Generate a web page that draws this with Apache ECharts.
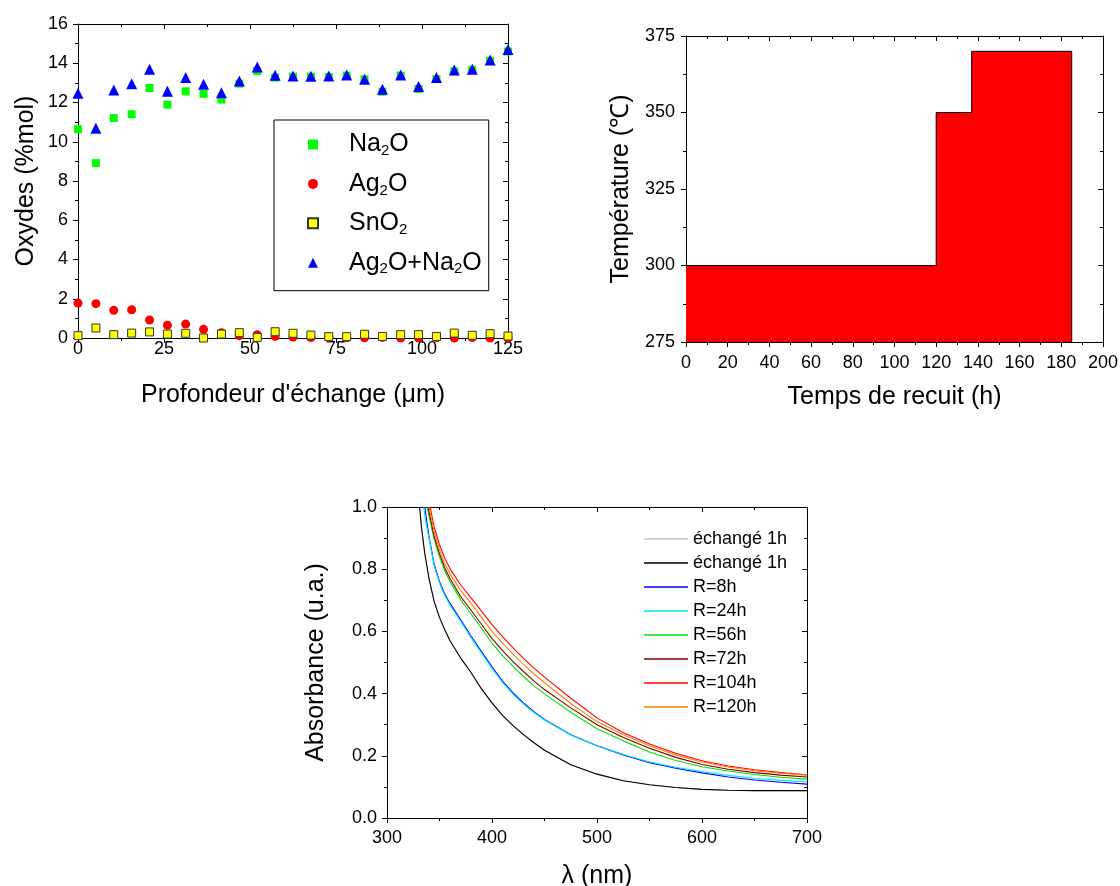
<!DOCTYPE html>
<html><head><meta charset="utf-8">
<script src="https://cdn.jsdelivr.net/npm/echarts@6/dist/echarts.min.js"></script>
<style>html,body{margin:0;padding:0;background:#fff}#c{width:1120px;height:886px}</style>
</head><body><div id="c"></div><script>
// ---------- Chart 1: oxides vs depth ----------
const depth = [0,5.2,10.4,15.6,20.8,26.0,31.3,36.5,41.7,46.9,52.1,57.3,62.5,67.7,72.9,78.1,83.3,88.5,93.8,99.0,104.2,109.4,114.6,119.8,125];
const na2o  = [10.64,8.91,11.21,11.40,12.74,11.89,12.57,12.44,12.15,12.96,13.60,13.27,13.32,13.32,13.30,13.37,13.18,12.55,13.37,12.69,13.20,13.59,13.66,14.13,14.60];
const ag2o  = [1.78,1.75,1.41,1.44,0.92,0.65,0.71,0.44,0.27,0.12,0.17,0.08,0.05,0.02,0.02,0.01,0.01,0.03,0.00,0.00,0.01,0.00,0.02,0.00,0.00];
const sno2  = [0.12,0.51,0.17,0.25,0.31,0.20,0.24,0.00,0.20,0.27,0.03,0.32,0.24,0.15,0.07,0.07,0.19,0.08,0.17,0.17,0.08,0.25,0.14,0.22,0.10];
const agna  = [12.47,10.69,12.64,12.95,13.69,12.57,13.28,12.93,12.50,13.10,13.81,13.39,13.35,13.34,13.35,13.40,13.18,12.67,13.40,12.81,13.28,13.66,13.69,14.17,14.70];
const oxideNames = ['Na2O','Ag2O','SnO2','Ag2O+Na2O'];
const oxideLabels = {
  'Na2O':'{t|Na}{s|2}{t|O}',
  'Ag2O':'{t|Ag}{s|2}{t|O}',
  'SnO2':'{t|SnO}{s|2}',
  'Ag2O+Na2O':'{t|Ag}{s|2}{t|O+Na}{s|2}{t|O}'
};

// ---------- Chart 2: annealing schedule ----------
const annealTime = [0,120,137,185,185];
const annealTemp = [300,350,370,370,275];

// ---------- Chart 3: absorbance spectra ----------
const specNames = ['échangé 1h #1','échangé 1h #2','R=8h','R=24h','R=56h','R=72h','R=104h','R=120h'];
const specEchangeA = [[331,1.0],[333,0.93],[336,0.85],[340,0.77],[345,0.695],[350,0.645],[355,0.605],[360,0.57],[370,0.515],[380,0.468],[390,0.415],[400,0.37],[410,0.33],[420,0.297],[430,0.268],[440,0.242],[450,0.218],[475,0.171],[500,0.141],[525,0.12],[550,0.107],[575,0.098],[600,0.092],[625,0.089],[650,0.088],[675,0.088],[700,0.088]];
const specEchangeB = [[331,1.0],[333,0.93],[336,0.85],[340,0.77],[345,0.695],[350,0.645],[355,0.605],[360,0.57],[370,0.515],[380,0.468],[390,0.415],[400,0.37],[410,0.33],[420,0.297],[430,0.268],[440,0.242],[450,0.218],[475,0.171],[500,0.141],[525,0.12],[550,0.107],[575,0.098],[600,0.092],[625,0.089],[650,0.088],[675,0.088],[700,0.088]];
const specR8   = [[336,1.0],[338,0.95],[340,0.905],[345,0.815],[350,0.76],[355,0.72],[360,0.69],[370,0.638],[380,0.585],[390,0.535],[400,0.486],[410,0.44],[420,0.402],[430,0.37],[440,0.342],[450,0.317],[475,0.268],[500,0.232],[525,0.203],[550,0.178],[575,0.16],[600,0.145],[625,0.132],[650,0.122],[675,0.115],[700,0.109]];
const specR24  = [[335,1.0],[337,0.95],[340,0.9],[345,0.81],[350,0.755],[355,0.715],[360,0.685],[370,0.633],[380,0.58],[390,0.53],[400,0.481],[410,0.436],[420,0.398],[430,0.366],[440,0.339],[450,0.315],[475,0.267],[500,0.232],[525,0.204],[550,0.18],[575,0.163],[600,0.149],[625,0.137],[650,0.128],[675,0.121],[700,0.116]];
const specR56  = [[338,1.0],[340,0.97],[345,0.895],[350,0.84],[355,0.795],[360,0.76],[370,0.703],[380,0.656],[390,0.61],[400,0.562],[410,0.522],[420,0.488],[430,0.455],[440,0.425],[450,0.399],[475,0.34],[500,0.287],[525,0.248],[550,0.212],[575,0.185],[600,0.165],[625,0.151],[650,0.14],[675,0.131],[700,0.125]];
const specR72  = [[339,1.0],[340,0.985],[345,0.905],[350,0.85],[355,0.805],[360,0.77],[370,0.713],[380,0.668],[390,0.623],[400,0.577],[410,0.538],[420,0.503],[430,0.471],[440,0.44],[450,0.413],[475,0.354],[500,0.3],[525,0.259],[550,0.224],[575,0.195],[600,0.172],[625,0.157],[650,0.146],[675,0.138],[700,0.132]];
const specR104 = [[341,1.0],[345,0.935],[350,0.878],[355,0.835],[360,0.802],[370,0.75],[380,0.708],[390,0.665],[400,0.622],[410,0.583],[420,0.547],[430,0.513],[440,0.482],[450,0.453],[475,0.385],[500,0.322],[525,0.274],[550,0.238],[575,0.208],[600,0.184],[625,0.167],[650,0.155],[675,0.146],[700,0.139]];
const specR120 = [[340,1.0],[345,0.92],[350,0.862],[355,0.818],[360,0.785],[370,0.733],[380,0.69],[390,0.645],[400,0.6],[410,0.562],[420,0.527],[430,0.494],[440,0.463],[450,0.435],[475,0.368],[500,0.31],[525,0.268],[550,0.232],[575,0.203],[600,0.18],[625,0.164],[650,0.152],[675,0.144],[700,0.138]];
const specData = [specEchangeA,specEchangeB,specR8,specR24,specR56,specR72,specR104,specR120];
const specColors = ['#c8c8c8','#000000','#0000ff','#00e5ff','#00e000','#800000','#ff0000','#ff8000'];

const FONT = 'Liberation Sans, Arial, sans-serif';
const TICK = 18, TITLE = 25;

function mainX(grid, min, max, interval, name, gap, margin){
  return {type:'value', gridIndex:grid, position:'bottom', min, max, interval,
    name, nameLocation:'middle', nameGap:gap,
    nameTextStyle:{fontFamily:FONT, fontSize:TITLE, color:'#000'},
    axisLine:{show:true, onZero:false, lineStyle:{color:'#000', width:1}},
    axisTick:{show:true, inside:false, length:5, lineStyle:{color:'#000'}},
    minorTick:{show:true, splitNumber:2, length:3, lineStyle:{color:'#000'}},
    splitLine:{show:false}, minorSplitLine:{show:false},
    axisLabel:{show:true, margin, fontFamily:FONT, fontSize:TICK, color:'#000', showMaxLabel:true, showMinLabel:true}};
}
function mainY(grid, min, max, interval, name, gap, margin, fmt){
  return {type:'value', gridIndex:grid, position:'left', min, max, interval,
    name, nameLocation:'middle', nameGap:gap,
    nameTextStyle:{fontFamily:FONT, fontSize:TITLE, color:'#000'},
    axisLine:{show:true, onZero:false, lineStyle:{color:'#000', width:1}},
    axisTick:{show:true, inside:false, length:5, lineStyle:{color:'#000'}},
    minorTick:{show:true, splitNumber:2, length:3, lineStyle:{color:'#000'}},
    splitLine:{show:false}, minorSplitLine:{show:false},
    axisLabel:{show:true, margin, fontFamily:FONT, fontSize:TICK, color:'#000', formatter:fmt, showMaxLabel:true, showMinLabel:true}};
}
function mirror(grid, pos, min, max, interval){
  return {type:'value', gridIndex:grid, position:pos, min, max, interval,
    axisLine:{show:true, onZero:false, lineStyle:{color:'#000', width:1}},
    axisTick:{show:true, inside:true, length:5, lineStyle:{color:'#000'}},
    minorTick:{show:true, splitNumber:2, length:3, lineStyle:{color:'#000'}},
    splitLine:{show:false}, axisLabel:{show:false}};
}

const series = [];
const oxideData = [na2o, ag2o, sno2, agna];
const oxideStyle = [
  {symbol:'rect', size:8, color:'#00ff00'},
  {symbol:'circle', size:9, color:'#ff0000'},
  {symbol:'rect', size:8, color:'#ffff00', border:'#333'},
  {symbol:'triangle', size:11, color:'#0000ff'}
];
oxideNames.forEach((n,i)=>{
  const st = oxideStyle[i];
  series.push({type:'scatter', name:n, xAxisIndex:0, yAxisIndex:0,
    symbol:st.symbol, symbolSize:st.size, clip:true,
    itemStyle:{color:st.color, borderColor:st.border||st.color, borderWidth:st.border?1:0, opacity:1},
    data: depth.map((d,j)=>[d, oxideData[i][j]])});
});
series.push({type:'line', name:'recuit', xAxisIndex:2, yAxisIndex:2, step:'end', symbol:'none',
  lineStyle:{color:'#000', width:1}, areaStyle:{color:'#ff0000', opacity:1, origin:'start'},
  data: annealTime.map((t,j)=>[t, annealTemp[j]])});
specNames.forEach((n,i)=>{
  series.push({type:'line', name:n, xAxisIndex:4, yAxisIndex:4, symbol:'none', showSymbol:false,
    smooth:false, clip:true,
    lineStyle:{color:specColors[i], width:1.1}, itemStyle:{color:specColors[i]},
    data: specData[i]});
});

const option = {
  backgroundColor:'#fff', animation:false,
  grid:[
    {left:78, top:24, width:430, height:314, outerBoundsMode:'none', containLabel:false},
    {left:686, top:36, width:417, height:306, outerBoundsMode:'none', containLabel:false},
    {left:387, top:507, width:420, height:311, outerBoundsMode:'none', containLabel:false}
  ],
  xAxis:[
    mainX(0, 0, 125, 25, "Profondeur d'échange (μm)", 45, 2),
    mirror(0, 'top', 0, 125, 25),
    mainX(1, 0, 200, 20, 'Temps de recuit (h)', 43, 12),
    mirror(1, 'top', 0, 200, 20),
    mainX(2, 300, 700, 100, 'λ (nm)', 46, 11),
    mirror(2, 'top', 300, 700, 100)
  ],
  yAxis:[
    mainY(0, 0, 16, 2, 'Oxydes (%mol)', 39, 10),
    mirror(0, 'right', 0, 16, 2),
    mainY(1, 275, 375, 25, 'Température (℃)', 52, 11),
    mirror(1, 'right', 275, 375, 25),
    mainY(2, 0, 1, 0.2, 'Absorbance (u.a.)', 58, 10, v=>v.toFixed(1)),
    mirror(2, 'right', 0, 1, 0.2)
  ],
  legend:[
    {orient:'vertical', left:274, top:120, padding:[12,7,14,33], borderColor:'#000', borderWidth:1,
     itemWidth:10, itemHeight:10, itemGap:12.9, data:oxideNames, selectedMode:false,
     formatter:n=>oxideLabels[n],
     textStyle:{padding:[0,0,0,26], fontFamily:FONT, fontSize:25, color:'#000',
       rich:{t:{fontFamily:FONT, fontSize:25, lineHeight:28, color:'#000'},
             s:{fontFamily:FONT, fontSize:15, lineHeight:6, verticalAlign:'bottom', color:'#000'}}}},
    {orient:'vertical', left:644, top:529, padding:0, itemWidth:44, itemHeight:1.5, itemGap:4,
     icon:'rect', data:specNames, selectedMode:false, formatter:n=>n.replace(/ #\d$/,''),
     textStyle:{fontFamily:FONT, fontSize:18, lineHeight:20, color:'#000'}}
  ],
  series
};
const chart = echarts.init(document.getElementById('c'), null, {renderer:'canvas'});
chart.setOption(option);
</script></body></html>
